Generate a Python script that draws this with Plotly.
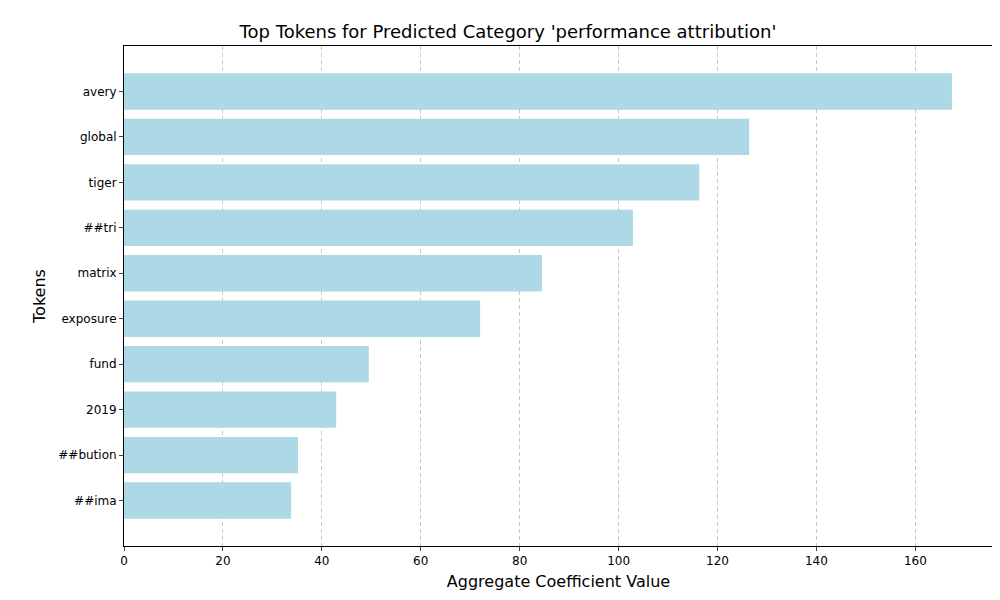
import plotly.graph_objects as go

tokens = ["avery", "global", "tiger", "##tri", "matrix", "exposure", "fund", "2019", "##bution", "##ima"]
values = [167.4, 126.4, 116.3, 102.9, 84.5, 72.0, 49.5, 42.9, 35.2, 33.8]
x_ticks = [0, 20, 40, 60, 80, 100, 120, 140, 160]

fig = go.Figure(go.Bar(
    x=values[::-1], y=tokens[::-1], orientation="h",
    marker=dict(color="#add8e6", line=dict(width=0)), width=0.8,
))
fig.update_layout(
    width=1000, height=600,
    paper_bgcolor="white", plot_bgcolor="white",
    margin=dict(l=116, r=15, t=38, b=62, autoexpand=False),
    font=dict(family="DejaVu Sans", size=12, color="black"),
    title=dict(text="Top Tokens for Predicted Category 'performance attribution'",
               x=0.5, xanchor="center", y=0.96, yanchor="middle", font=dict(size=18)),
    showlegend=False,
)
fig.update_xaxes(
    range=[0, 175.7], tickvals=x_ticks, ticks="outside", ticklen=4,
    showline=True, linecolor="black", mirror=True, automargin=False,
    showgrid=True, gridcolor="#c8c8c8", griddash="4px,3px", zeroline=False,
    title=dict(text="Aggregate Coefficient Value", font=dict(size=16), standoff=8),
)
fig.update_yaxes(
    range=[-0.5 - 0.5, 9.5 + 0.5], ticks="outside", ticklen=4,
    showline=True, linecolor="black", mirror=True, showgrid=False, automargin=False,
    title=dict(text="Tokens", font=dict(size=16), standoff=8),
)
fig.write_html("out.html")
